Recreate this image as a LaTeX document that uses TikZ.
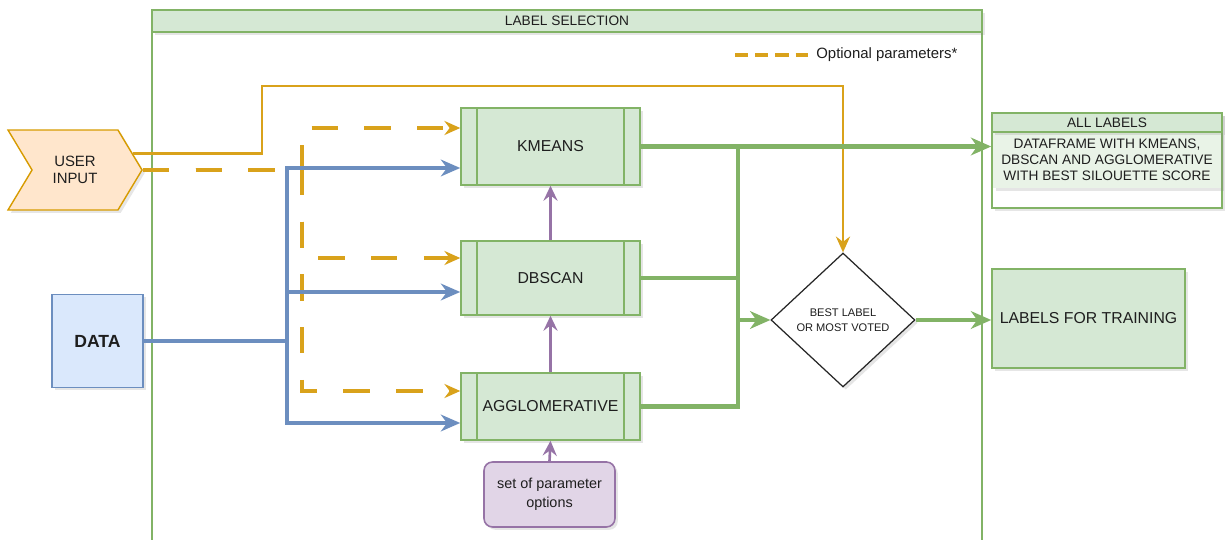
\documentclass[tikz,border=0pt]{standalone}
\usepackage{fontspec}
\setmainfont{Liberation Sans}
\usetikzlibrary{arrows.meta,shapes.geometric,shapes.symbols,shadows,positioning}
\definecolor{algofill}{HTML}{D5E8D4}
\definecolor{algoline}{HTML}{82B366}
\definecolor{listfill}{HTML}{E9F3E7}
\definecolor{inputfill}{HTML}{FFE6CC}
\definecolor{inputline}{HTML}{D79B00}
\definecolor{optcolor}{HTML}{D9A21B}
\definecolor{datafill}{HTML}{DAE8FC}
\definecolor{dataline}{HTML}{6C8EBF}
\definecolor{paramfill}{HTML}{E1D5E7}
\definecolor{paramline}{HTML}{9673A6}
\definecolor{txtgray}{HTML}{1E1E1E}
\begin{document}
\begin{tikzpicture}[x=0.02cm, y=-0.02cm,
    every node/.style={text=txtgray, align=center, inner sep=1pt,
      font=\fontsize{9pt}{10.5pt}\selectfont},
    softshadow/.style={drop shadow={opacity=0.2, shadow xshift=1.6pt, shadow yshift=-1.6pt}},
    algo/.style={draw=algoline, fill=algofill, line width=0.9pt, minimum width=3.58cm, softshadow},
    algoedge/.style={draw=algoline, line width=0.9pt},
    header/.style={draw=algoline, fill=algofill, line width=0.9pt, softshadow,
      font=\fontsize{7.8pt}{9pt}\selectfont},
    userin/.style={signal, signal to=east, signal from=west, signal pointer angle=118,
      draw=inputline, fill=inputfill, line width=0.8pt, minimum width=2.68cm, minimum height=1.6cm,
      softshadow, font=\fontsize{8.5pt}{10pt}\selectfont},
    databox/.style={draw=dataline, fill=datafill, line width=0.9pt, minimum width=1.82cm,
      minimum height=1.86cm, softshadow, font=\fontsize{10pt}{12pt}\selectfont\bfseries},
    decision/.style={diamond, draw=black!85, fill=white, line width=0.7pt, inner sep=0pt,
      minimum width=2.88cm, minimum height=2.68cm, softshadow,
      font=\fontsize{6.3pt}{8.6pt}\selectfont},
    resultbox/.style={draw=algoline, fill=algofill, line width=0.9pt, minimum width=3.86cm,
      minimum height=1.98cm, softshadow},
    parambox/.style={draw=paramline, fill=paramfill, line width=0.9pt, rounded corners=0.17cm,
      minimum width=2.62cm, minimum height=1.3cm, softshadow,
      font=\fontsize{8.2pt}{11pt}\selectfont},
    userline/.style={draw=optcolor, line width=1.4pt,
      -{Stealth[length=9pt, width=8pt, inset=3pt]}},
    optline/.style={draw=optcolor, line width=1.8pt, dash pattern=on 15pt off 15pt,
      -{Stealth[length=9pt, width=8pt, inset=3pt]}},
    legendline/.style={draw=optcolor, line width=2pt, dash pattern=on 7.5pt off 4pt},
    datapath/.style={draw=dataline, line width=2.1pt,
      -{Stealth[length=11pt, width=9.5pt, inset=3.5pt]}},
    resline/.style={draw=algoline, line width=2.4pt},
    resarrow/.style={resline, -{Stealth[length=11.5pt, width=10pt, inset=3.5pt]}},
    parampath/.style={draw=paramline, line width=1.5pt,
      -{Stealth[length=8.5pt, width=8pt, inset=3pt]}}]
\useasboundingbox (0,0) rectangle (1225,540);

\draw[algoedge, fill=white] (152,32) rectangle (982,560);
\node[header, minimum width=16.6cm, minimum height=0.44cm] (LSHead) at (567,21) {LABEL SELECTION};

\coordinate (legA) at (735,55);
\node[inner sep=0pt, anchor=west, font=\fontsize{8.5pt}{10pt}\selectfont] (LegText) at (816,55) {Optional parameters*};
\draw[legendline] (legA) -- ([xshift=-0.16cm]LegText.west);

\node[userin] (UI) at (75,170) {USER\\INPUT};
\node[databox] (Data) at (97.5,341) {DATA};

\node[algo, minimum height=1.54cm] (KM) at (550.5,146.5) {KMEANS};
\node[algo, minimum height=1.48cm] (DB) at (550.5,278) {DBSCAN};
\node[algo, minimum height=1.34cm] (AG) at (550.5,406.5) {AGGLOMERATIVE};
\foreach \n in {KM,DB,AG} {
  \draw[algoedge] ([xshift=0.34cm]\n.north west) -- ([xshift=0.34cm]\n.south west);
  \draw[algoedge] ([xshift=-0.34cm]\n.north east) -- ([xshift=-0.34cm]\n.south east);
}
\node[parambox] (Param) at (549.5,494.5) {set of parameter\\options};

\node[decision] (Best) at (843,320) {BEST LABEL\\OR MOST VOTED};
\node[resultbox] (LFT) at (1088.5,318.5) {LABELS FOR TRAINING};

\node[draw=algoline, fill=white, line width=0.9pt, minimum width=4.6cm, minimum height=1.9cm,
  softshadow] (AL) at (1107,160.5) {};
\node[fill=listfill, minimum width=4.55cm, minimum height=1.12cm, softshadow,
  font=\fontsize{7.8pt}{9.2pt}\selectfont] (ALText) at (1107,160)
  {DATAFRAME WITH KMEANS,\\DBSCAN AND AGGLOMERATIVE\\WITH BEST SILOUETTE SCORE};
\node[header, minimum width=4.6cm, minimum height=0.38cm] (ALHead) at (1107,122.5) {ALL LABELS};

% user input
\coordinate (bendU) at (262,86);
\draw[userline] (UI.16) -| (bendU) -| (Best.north);
\coordinate (optsplit) at (302,170);
\draw[optline] (UI.east) -- (optsplit) |- ([yshift=0.37cm]KM.west);
\draw[optline] (UI.east) -- (optsplit) |- ([yshift=0.4cm]DB.west);
\draw[optline] (UI.east) -- (optsplit) |- ([yshift=0.31cm]AG.west);

% data
\coordinate (dsplit) at (287,341);
\draw[datapath] (Data.east) -- (dsplit) |- ([yshift=-0.43cm]KM.west);
\draw[datapath] (Data.east) -- (dsplit) |- ([yshift=-0.28cm]DB.west);
\draw[datapath] (Data.east) -- (dsplit) |- ([yshift=-0.33cm]AG.west);

% parameters
\draw[parampath] (Param.north) -- (AG.south);
\draw[parampath] (AG.north) -- (DB.south);
\draw[parampath] (DB.north) -- (KM.south);

% results
\coordinate (gjoin) at (738,320);
\draw[resarrow] (KM.east) -- (KM.east -| AL.west);
\draw[resline] (KM.east -| gjoin) -- (gjoin);
\draw[resline] (DB.east) -| (gjoin);
\draw[resline] (AG.east) -| (gjoin);
\draw[resarrow] (gjoin) -- (Best.west);
\draw[resarrow] (Best.east) -- (Best.east -| LFT.west);
\end{tikzpicture}
\end{document}
